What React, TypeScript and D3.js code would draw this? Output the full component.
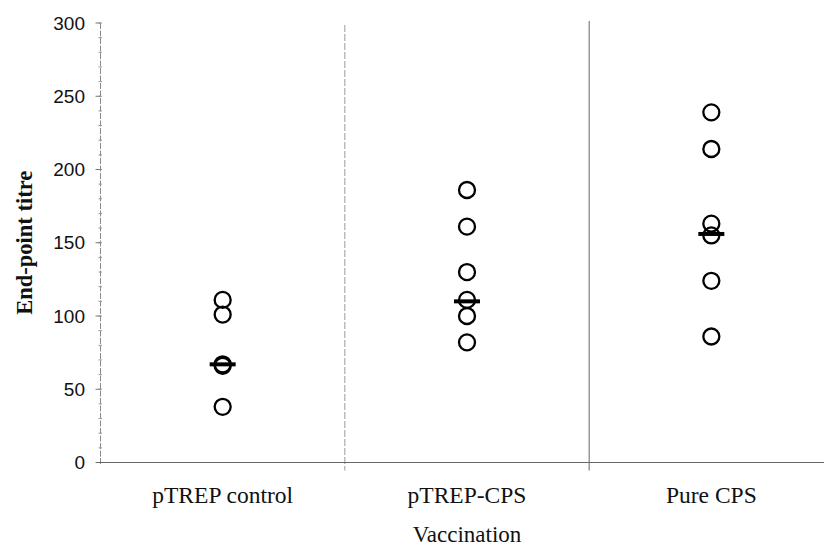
import React from "react";
import * as d3 from "d3";

// Vaccination groups and their end-point titres
const groups = ["pTREP control", "pTREP-CPS", "Pure CPS"];
const controlTitres = [38, 66, 67, 101, 111];
const cpsConjugateTitres = [82, 100, 111, 130, 161, 186];
const pureCpsTitres = [86, 124, 155, 163, 214, 239];
const medians = [67, 110, 156];
const yTicks = [0, 50, 100, 150, 200, 250, 300];
const yMinorTicks = d3.range(0, 301, 10);

const W = 824;
const H = 549;
const left = 100.5;
const right = 833.5;
const top = 23;
const bottom = 462.5;

export default function App() {
  const x = d3.scaleBand<string>().domain(groups).range([left, right]);
  const y = d3.scaleLinear().domain([0, 300]).range([bottom, top]);
  const series = [controlTitres, cpsConjugateTitres, pureCpsTitres];
  const cx = (g: string) => (x(g) ?? 0) + x.bandwidth() / 2;
  const dividers = groups.slice(1).map((g) => x(g) ?? 0);

  return (
    <svg
      width={W}
      height={H}
      style={{ position: "absolute", left: 0, top: 0, background: "#fff" }}
    >
      {/* group dividers */}
      {dividers.map((dx, i) => (
        <line
          key={"div" + i}
          x1={dx}
          x2={dx}
          y1={i === 0 ? 25 : 21}
          y2={bottom + 8}
          stroke={i === 0 ? "#9a9a9a" : "#666"}
          strokeWidth={1}
          strokeDasharray={i === 0 ? "7,2" : undefined}
        />
      ))}

      {/* y axis */}
      <line x1={left} x2={left} y1={top} y2={bottom + 3} stroke="#8a8a8a" strokeWidth={1} strokeDasharray="6,1.5" />
      {yMinorTicks.map((t) => (
        <line key={"mn" + t} x1={left - 2} x2={left + 1.5} y1={y(t)} y2={y(t)} stroke="#999" strokeWidth={1} />
      ))}
      {yTicks.map((t) => (
        <g key={"tk" + t}>
          <line x1={left - 5} x2={left} y1={y(t)} y2={y(t)} stroke="#777" strokeWidth={1} />
          <text
            x={85}
            y={y(t)}
            textAnchor="end"
            dominantBaseline="central"
            fontFamily="'Liberation Sans', Arial, sans-serif"
            fontSize={19}
            fill="#111"
          >
            {t}
          </text>
        </g>
      ))}

      {/* x axis */}
      <line x1={left - 4} x2={W} y1={bottom} y2={bottom} stroke="#666" strokeWidth={1.2} />

      {/* individual titres */}
      {series.map((vals, gi) =>
        vals.map((v, i) => (
          <circle
            key={`c${gi}-${i}`}
            cx={cx(groups[gi])}
            cy={y(v)}
            r={8}
            fill="none"
            stroke="#000"
            strokeWidth={2.3}
          />
        ))
      )}

      {/* median bars */}
      {medians.map((m, gi) => (
        <line
          key={"med" + gi}
          x1={cx(groups[gi]) - 13}
          x2={cx(groups[gi]) + 13}
          y1={y(m)}
          y2={y(m)}
          stroke="#000"
          strokeWidth={4}
        />
      ))}

      {/* category labels */}
      {groups.map((g) => (
        <text
          key={"lbl" + g}
          x={cx(g)}
          y={503}
          textAnchor="middle"
          fontFamily="'Liberation Serif', 'Times New Roman', serif"
          fontSize={23.5}
          fill="#111"
        >
          {g}
        </text>
      ))}

      {/* axis titles */}
      <text
        x={(left + right) / 2}
        y={542}
        textAnchor="middle"
        fontFamily="'Liberation Serif', 'Times New Roman', serif"
        fontSize={23}
        fill="#111"
      >
        Vaccination
      </text>
      <text
        transform={`translate(31.5, ${(top + bottom) / 2}) rotate(-90)`}
        textAnchor="middle"
        fontFamily="'Liberation Serif', 'Times New Roman', serif"
        fontWeight="bold"
        fontSize={22.5}
        fill="#111"
      >
        End-point titre
      </text>
    </svg>
  );
}
